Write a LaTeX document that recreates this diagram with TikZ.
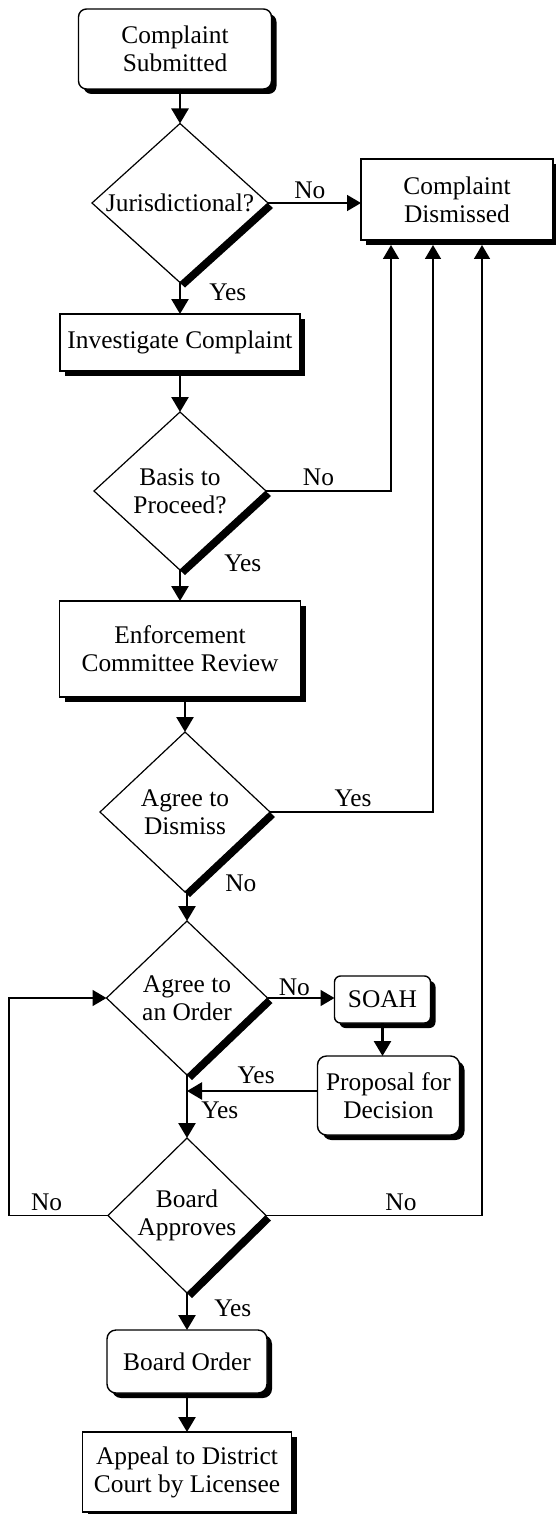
\documentclass[tikz,border=0pt]{standalone}
\usepackage{fontspec}
\setmainfont{Liberation Serif}
\usetikzlibrary{positioning, shapes.geometric, arrows.meta, shadows}

\begin{document}
\begin{tikzpicture}[
    x=1pt, y=1pt,
    font=\fontsize{25.4pt}{28pt}\selectfont,
    dshadow/.style={drop shadow={shadow xshift=5pt, shadow yshift=-5pt, fill=black, opacity=1}},
    box/.style={rectangle, draw, line width=1.4pt, fill=white, align=center, inner sep=0pt, outer sep=0pt, dshadow},
    rbox/.style={box, rounded corners=8pt},
    decision/.style={diamond, draw, line width=1.2pt, fill=white, align=center, inner sep=0pt, outer sep=0pt, shape aspect=1.1, dshadow},
    arr/.style={-{Triangle[length=15pt, width=17pt]}, line width=2.6pt},
    link/.style={-{Triangle[length=14pt, width=16pt]}, line width=1.6pt},
    lbl/.style={inner sep=1pt}
  ]
    \useasboundingbox (0,0) rectangle (556,-1514);

    % Main column
    \node[rbox, minimum width=193pt, minimum height=80pt] (cs) at (175,-49) {Complaint\\Submitted};
    \node[decision, minimum width=176pt, minimum height=159pt, below=34.5pt of cs, xshift=5pt] (jur) {Jurisdictional?};
    \node[box, minimum width=240pt, minimum height=57pt, below=31.5pt of jur] (inv) {Investigate Complaint};
    \node[decision, minimum width=172pt, minimum height=158pt, below=41pt of inv] (basis) {Basis to\\Proceed?};
    \node[box, minimum width=241pt, minimum height=96pt, below=31pt of basis] (enf) {Enforcement\\Committee Review};
    \node[decision, minimum width=170pt, minimum height=160pt, below=35pt of enf, xshift=5pt] (dism) {Agree to\\Dismiss};
    \node[decision, minimum width=161pt, minimum height=154pt, below=29pt of dism, xshift=2pt] (order) {Agree to\\an Order};
    \node[decision, minimum width=158pt, minimum height=155pt, below=63pt of order] (approve) {Board\\Approves};
    \node[rbox, rounded corners=9pt, minimum width=160pt, minimum height=63pt, below=37pt of approve] (bo) {Board Order};
    \node[box, minimum width=209pt, minimum height=80pt, below=39pt of bo] (appeal) {Appeal to District\\Court by Licensee};

    % Side nodes
    \node[box, minimum width=192pt, minimum height=81pt, right=93pt of jur, yshift=3.5pt] (cd) {Complaint\\Dismissed};
    \node[rbox, rounded corners=6pt, minimum width=96pt, minimum height=47pt, right=67pt of order, yshift=-1.5pt] (soah) {SOAH};
    \node[rbox, rounded corners=9pt, minimum width=142pt, minimum height=79pt, below=33pt of soah, xshift=6pt] (pfd) {Proposal for\\Decision};

    % Connectors
    \draw[arr] (cs.south -| jur.north) -- (jur.north);
    \draw[link] (jur.east) -- node[lbl, above=2.5pt, pos=0.45] (no1) {No} (jur.east -| cd.west);
    \draw[arr] (jur.south) -- node[lbl, pos=0.3, right=27pt] (yes1) {Yes} (inv.north);
    \draw[arr] (inv.south) -- (basis.north);
    \draw[link] (basis.east) -| node[lbl, above=3.5pt, pos=0.21] (no2) {No} ([xshift=30pt, yshift=-5pt]cd.south west);
    \draw[arr] (basis.south) -- node[lbl, pos=0, right=42pt, yshift=7pt] (yes2) {Yes} (enf.north);
    \draw[arr] (enf.south -| dism.north) -- (dism.north);
    \draw[link] (dism.east) -| node[lbl, above=3pt, pos=0.255] (yes3) {Yes} ([xshift=72pt, yshift=-5pt]cd.south west);
    \draw[arr] (dism.south -| order.north) -- node[lbl, pos=0, right=36pt, yshift=9pt] (no3) {No} (order.north);
    \draw[link] (order.east) -- node[lbl, above=0.5pt, pos=0.4] (no4) {No} (order.east -| soah.west);
    \draw[arr] (soah.south) -- (soah.south |- pfd.north);
    \draw[arr] ([yshift=4.5pt]pfd.west) -- node[lbl, above=4.5pt, pos=0.47] (yes4) {Yes} ([yshift=4.5pt]pfd.west -| order.south);
    \draw[arr] (order.south) -- node[lbl, pos=0.556, right=12pt] (yes5) {Yes} (approve.north);
    \draw[link] (approve.west) -- node[lbl, above=2.5pt, pos=0.62] (no5) {No} ([xshift=-99pt]approve.west) |- (order.west);
    \draw[link] (approve.east) -| node[lbl, above=2.5pt, pos=0.3125] (no6) {No} ([xshift=121pt, yshift=-5pt]cd.south west);
    \draw[arr] (approve.south) -- node[lbl, pos=0.4, right=25pt] (yes6) {Yes} (bo.north);
    \draw[arr] (bo.south) -- (appeal.north);

\end{tikzpicture}
\end{document}
